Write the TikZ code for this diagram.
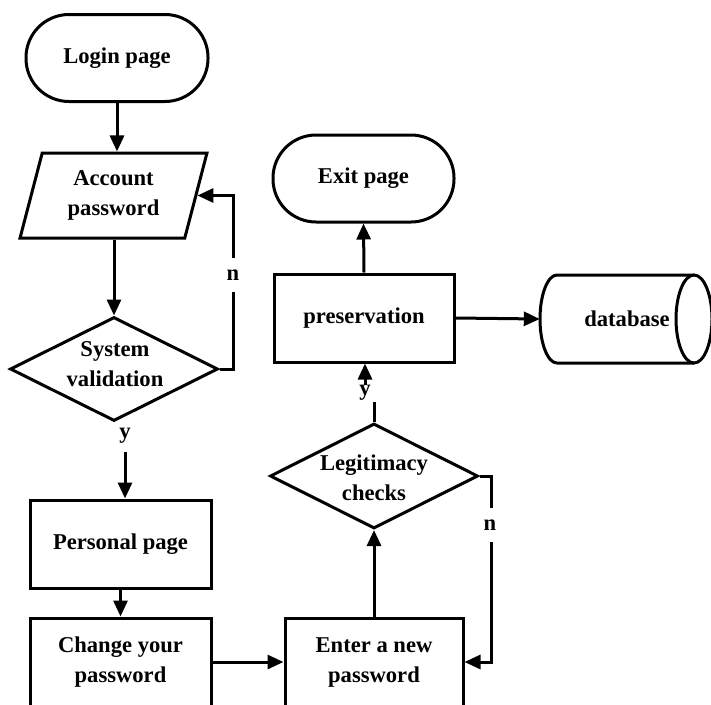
\documentclass[tikz,border=0pt]{standalone}
\usepackage{fontspec}
\setmainfont{Liberation Serif}
\usetikzlibrary{shapes.geometric,arrows.meta}
\begin{document}
\begin{tikzpicture}[x=1pt,y=-1pt,
  every node/.style={font=\fontsize{22.6}{30}\selectfont\bfseries, align=center, inner sep=0pt},
  box/.style={draw, line width=3pt, minimum width=181pt, minimum height=88pt},
  term/.style={draw, line width=3pt, rounded corners=43pt, minimum width=182pt, minimum height=87pt},
  dec/.style={draw, diamond, line width=3pt, minimum width=208pt, minimum height=104pt},
  io/.style={draw, trapezium, trapezium left angle=74, trapezium right angle=106, trapezium stretches=true, line width=3pt, minimum width=187pt, minimum height=85pt},
  arr/.style={line width=3pt, -{Triangle[length=16pt,width=14pt]}},
  ln/.style={line width=3pt},
  lbl/.style={fill=white, inner xsep=2pt, inner ysep=12pt}
]
\useasboundingbox (0,0) rectangle (711,704);
\fill[white] (0,0) rectangle (711,704);

\node[term] (login) at (117,58) {Login page};
\node[io] (acc) at (113.5,195.5) {Account\\password};
\node[dec] (sv) at (114,369) {};
\node (svt) at (115,364) {System\\validation};
\node (y1) at (125,436) {y};
\node[box] (pp) at (120.5,544) {Personal page};
\node[box] (cp) at (120.5,662) {Change your\\password};
\node[box, minimum width=178pt] (enp) at (374,662) {Enter a new\\password};
\node[dec, minimum height=105pt] (lc) at (374,476) {};
\node (lct) at (374,478) {Legitimacy\\checks};
\node (y2) at (365,393) {y};
\node[box, minimum width=180pt] (pres) at (364,318) {preservation};
\node[term, minimum width=181pt] (exit) at (363.5,178.5) {Exit page};
\node[minimum width=174pt, minimum height=88pt] (db) at (627,319) {database};

% database cylinder
\draw[ln] (694,275) -- (557,275) arc[start angle=270, end angle=90, x radius=17, y radius=44] -- (694,363);
\draw[ln] (694,319) ellipse[x radius=18, y radius=44];

% connectors
\draw[arr] (login.south) -- (login.south |- acc.north);
\draw[arr] (sv.north |- acc.south) -- (sv.north);
\draw[arr] (sv.east) -- ++(14,0) |- (acc.east);
\node[lbl] (n1) at (233,275) {n};
\draw[arr] ([yshift=-8pt]y1.south) -- (y1.south |- pp.north);
\draw[arr] (pp.south) -- (cp.north);
\draw[arr] (cp.east) -- (enp.west);
\draw[arr] (enp.north) -- (lc.south);
\draw[arr] (lc.east) -- ++(12,0) |- (enp.east);
\node[lbl] (n2) at (490,525) {n};
\draw[ln] (lc.north) -- ++(0,-20);
\draw[arr] (y2.north) -- (y2.north |- pres.south);
\draw[arr] (pres.north) -- (exit.south);
\draw[arr] (pres.east) -- (db.west);
\end{tikzpicture}
\end{document}
